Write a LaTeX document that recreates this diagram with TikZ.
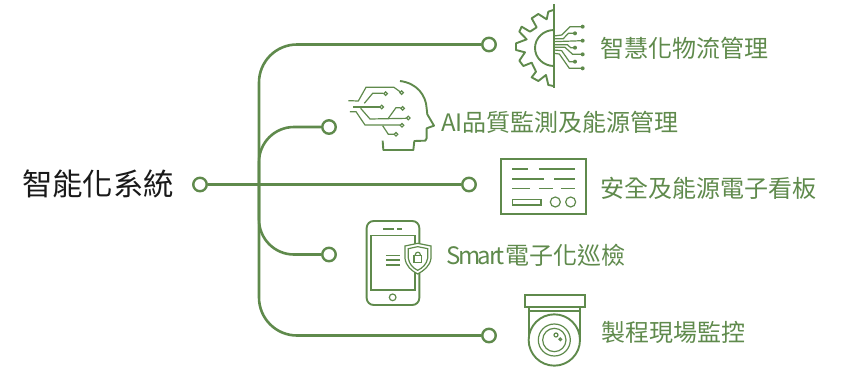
\documentclass[tikz,border=0pt]{standalone}
\usepackage{fontspec}
\setmainfont{Noto Sans CJK TC}
\definecolor{leaf}{HTML}{5F8A4C}
\tikzset{
  dot/.style={circle,draw=leaf,fill=white,line width=2.4pt,minimum size=13.5pt,inner sep=0pt},
  wire/.style={draw=leaf,line width=2.6pt},
  icon/.style={draw=leaf,line width=1.9pt},
  thin icon/.style={draw=leaf,line width=1.2pt},
  lbl/.style={text=leaf,anchor=west,inner sep=0pt,font=\fontsize{24}{26}\selectfont},
  tip/.style={circle,fill=leaf,inner sep=0pt,minimum size=4pt},
  ring/.style={circle,thin icon,fill=white,inner sep=0pt,minimum size=3.6pt}
}
\begin{document}
\begin{tikzpicture}[x=1pt,y=-1pt]
  \useasboundingbox (0,0) rectangle (844,368);
  \node[anchor=west,inner sep=0pt,text=black!90,font=\fontsize{30.4}{32}\selectfont] (main) at (22,184) {智能化系統};
  \coordinate (trunk) at (259,184.5);
  \node[dot] (hub) at (200,184.5) {};
  \node[dot] (n1) at (489,44.5) {};
  \node[dot] (n2) at (329,127) {};
  \node[dot] (n3) at (469,184.5) {};
  \node[dot] (n4) at (329,254.5) {};
  \node[dot] (n5) at (489,335.5) {};
  \draw[wire,rounded corners=38pt] (n1) -- (n1 -| trunk) -- (n5 -| trunk) -- (n5);
  \draw[wire,rounded corners=35pt] (n2) -- (n2 -| trunk) -- (trunk);
  \draw[wire,rounded corners=35pt] (n4) -- (n4 -| trunk) -- (trunk);
  \draw[wire] (hub) -- (n3);
  \node[lbl] (t1) at (600,48) {智慧化物流管理};
  \node[lbl] (t2) at (441,122) {AI品質監測及能源管理};
  \node[lbl] (t3) at (600,188) {安全及能源電子看板};
  \node[lbl] (t4) at (446,255) {\addfontfeature{LetterSpace=-10}Smart\addfontfeature{LetterSpace=0}電子化巡檢};
  \node[lbl] (t5) at (601,332) {製程現場監控};
  % gear
  \begin{scope}[shift={(480,0)},x=.3333pt,y=-.3333pt]
    \draw[icon] (222,12) -- (222,265);
    \draw[icon] (222,198) arc (90:270:57 and 54);
    \draw[icon,line join=round] (220,30) -- (205,35) -- (200,58) -- (175,42) -- (155,55) -- (170,82) -- (150,95) -- (125,80) -- (118,95) -- (140,118) -- (108,130) -- (108,150) -- (135,157) -- (118,182) -- (130,198) -- (155,188) -- (168,215) -- (155,232) -- (175,243) -- (198,225) -- (205,255) -- (220,258);
    \draw[thin icon] (222,108) -- (245,105) -- (270,80) -- (308,80);
    \draw[thin icon] (222,116) -- (250,116) -- (265,100) -- (285,100);
    \draw[thin icon] (222,125) -- (308,122);
    \draw[thin icon] (222,134) -- (262,134) -- (272,143) -- (285,143);
    \draw[thin icon] (222,142) -- (255,142) -- (278,163) -- (308,163);
    \draw[thin icon] (222,150) -- (245,152) -- (268,185) -- (285,185);
    \draw[thin icon] (222,160) -- (238,162) -- (268,205) -- (308,205);
    \foreach \tx/\ty in {308/80,285/100,308/122,285/143,308/163,285/185,308/205}
      \node[tip] at (\tx,\ty) {};
  \end{scope}
  % head
  \begin{scope}[shift={(320,75)},x=.3333pt,y=-.3333pt]
    \draw[icon,line join=round] (240,18) .. controls (290,24) and (318,60) .. (320,100) -- (322,118) -- (342,152) -- (320,160) -- (320,190) -- (316,197) -- (283,198) -- (280,225) -- (190,225) -- (188,197);
    \draw[thin icon] (85,77) -- (115,78) -- (138,37) -- (222,37) -- (240,50);
    \draw[thin icon] (133,85) -- (158,55) -- (190,55);
    \draw[thin icon] (100,96) -- (180,96);
    \draw[thin icon] (90,110) -- (108,110) -- (135,150) -- (240,150);
    \draw[thin icon] (122,100) -- (150,132) -- (258,130);
    \draw[thin icon] (205,130) -- (228,98) -- (242,98);
    \draw[thin icon] (188,152) -- (205,178) -- (222,178);
    \foreach \tx/\ty in {245/53,197/56,185/96,246/151,265/129,248/100,228/178}
      \node[ring] at (\tx,\ty) {};
  \end{scope}
  % board
  \begin{scope}[shift={(455,150)},x=.3333pt,y=-.3333pt]
    \draw[icon] (137,27) rectangle (392,192);
    \draw[thin icon] (172,57) -- (218,57) (252,57) -- (360,57);
    \draw[thin icon] (172,87) -- (268,87) (298,87) -- (360,87);
    \draw[thin icon] (172,115) -- (225,115) (252,115) -- (293,115) (318,115) -- (360,115);
    \draw[thin icon] (172,148) rectangle (258,165);
    \draw[thin icon] (301,156) circle[radius=15];
    \draw[thin icon] (347,156) circle[radius=15];
  \end{scope}
  % phone
  \begin{scope}[shift={(320,210)},x=.3333pt,y=-.3333pt]
    \draw[icon,rounded corners=7pt] (140,285) rectangle (298,33);
    \draw[thin icon] (153,240) rectangle (285,77);
    \draw[thin icon] (190,57) -- (222,57) (232,57) -- (247,57);
    \draw[thin icon] (218,262) circle[radius=10];
    \draw[thin icon] (198,137) -- (240,137) (198,150) -- (240,150) (198,165) -- (240,165);
    \draw[thin icon,fill=white] (255,108) -- (293,100) -- (333,108) -- (333,145) .. controls (330,168) and (312,182) .. (293,192) .. controls (274,182) and (258,168) .. (255,145) -- cycle;
    \draw[thin icon] (265,116) -- (293,110) -- (323,116) -- (323,145) .. controls (320,162) and (308,174) .. (293,181) .. controls (278,174) and (268,162) .. (265,145) -- cycle;
    \draw[thin icon] (282,137) rectangle (305,157);
    \draw[thin icon] (286,137) -- (286,134) arc (180:360:7.5) -- (301,137);
  \end{scope}
  % camera
  \begin{scope}[shift={(470,285)},x=.3333pt,y=-.3333pt]
    \draw[icon] (165,30) rectangle (345,65);
    \draw[icon] (178,65) -- (178,170) (330,65) -- (330,170);
    \draw[thin icon] (178,78) -- (330,78);
    \draw[icon,fill=white] (253,165) circle[radius=77];
    \draw[thin icon] (253,165) circle[radius=48];
    \draw[thin icon] (253,165) circle[radius=35];
    \draw[thin icon] (258,150) circle[radius=6];
    \draw[thin icon] (271,163) circle[radius=4];
  \end{scope}
\end{tikzpicture}
\end{document}
